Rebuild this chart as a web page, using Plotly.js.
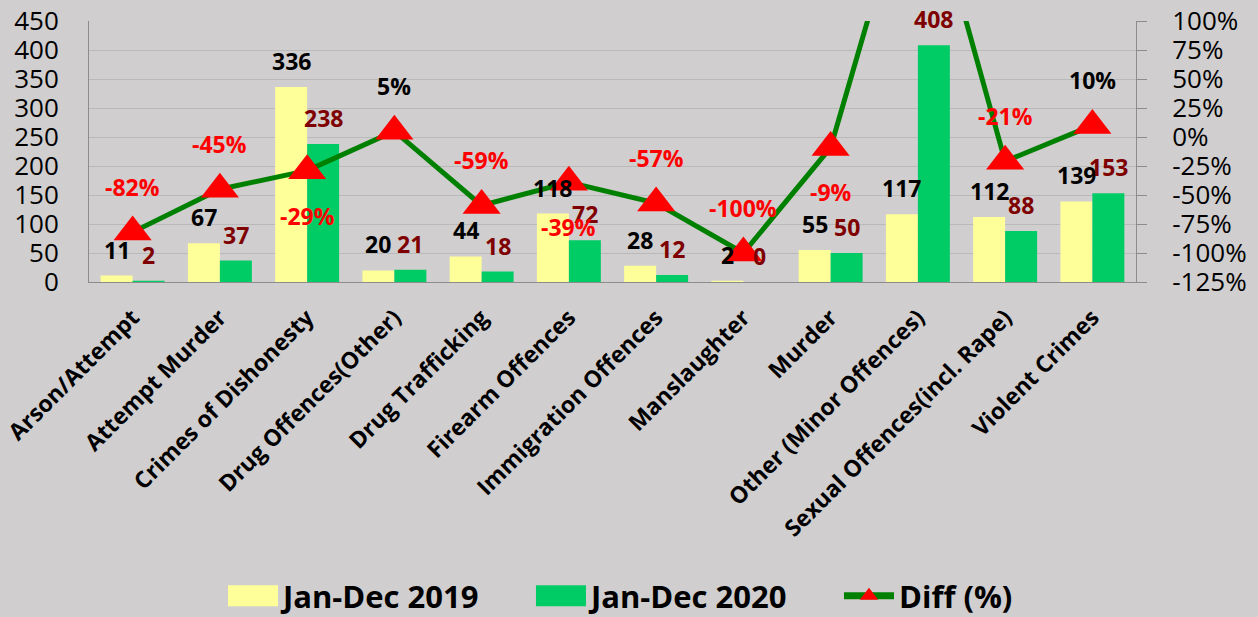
<!DOCTYPE html>
<html>
<head>
<meta charset="utf-8">
<script src="https://cdn.plot.ly/plotly-3.0.1.min.js"></script>
<style>
  html, body { margin: 0; padding: 0; background: #d0cece; }
  #chart { width: 1258px; height: 617px; }
</style>
</head>
<body>
<div id="chart"></div>
<script>
const categories = [
  "Arson/Attempt", "Attempt Murder", "Crimes of Dishonesty", "Drug Offences(Other)",
  "Drug Trafficking", "Firearm Offences", "Immigration Offences", "Manslaughter",
  "Murder", "Other (Minor Offences)", "Sexual Offences(incl. Rape)", "Violent Crimes"
];
const values2019 = [11, 67, 336, 20, 44, 118, 28, 2, 55, 117, 112, 139];
const values2020 = [2, 37, 238, 21, 18, 72, 12, 0, 50, 408, 88, 153];
const diffPct = [-82, -45, -29, 5, -59, -39, -57, -100, -9, 249, -21, 10];
const seriesNames = ["Jan-Dec 2019", "Jan-Dec 2020", "Diff (%)"];
const leftTickVals = [0, 50, 100, 150, 200, 250, 300, 350, 400, 450];
const rightTickVals = [-125, -100, -75, -50, -25, 0, 25, 50, 75, 100];
const rightTickText = ["-125%", "-100%", "-75%", "-50%", "-25%", "0%", "25%", "50%", "75%", "100%"];

// label placement (above / below the marker) for the Diff labels
const diffLabelSide = [1, 1, -1, 1, 1, -1, 1, 1, -1, 1, 1, 1];

const FONT = "Open Sans, Noto Sans, sans-serif";

const traces = [
  {
    type: "bar", name: seriesNames[0], x: categories, y: values2019,
    marker: { color: "#FFFF99" }, hoverinfo: "skip", yaxis: "y"
  },
  {
    type: "bar", name: seriesNames[1], x: categories, y: values2020,
    marker: { color: "#00CC66" }, hoverinfo: "skip", yaxis: "y"
  },
  {
    type: "scatter", mode: "lines+markers", name: seriesNames[2], x: categories, y: diffPct,
    yaxis: "y2", line: { color: "#008000", width: 5 },
    marker: { symbol: "triangle-up", color: "#FF0000", size: 33 },
    hoverinfo: "skip"
  }
];

const annotations = [];
const barShift = 16;
const labelFont = 23;
categories.forEach((c, i) => {
  annotations.push({
    x: c, y: values2019[i], xref: "x", yref: "y", text: String(values2019[i]),
    showarrow: false, xshift: -barShift, yshift: 26,
    font: { family: FONT, size: labelFont, color: "#000000", weight: "bold" }
  });
  annotations.push({
    x: c, y: values2020[i], xref: "x", yref: "y", text: String(values2020[i]),
    showarrow: false, xshift: barShift, yshift: 26,
    font: { family: FONT, size: labelFont, color: "#7F0000", weight: "bold" }
  });
  if (diffPct[i] <= 100) {
    annotations.push({
      x: c, y: diffPct[i], xref: "x", yref: "y2", text: diffPct[i] + "%",
      showarrow: false, yshift: 45 * diffLabelSide[i],
      font: { family: FONT, size: labelFont, color: diffPct[i] > 0 ? "#000000" : "#FF0000", weight: "bold" }
    });
  }
});

const layout = {
  width: 1258, height: 617,
  paper_bgcolor: "#d0cece", plot_bgcolor: "#d0cece",
  margin: { l: 89, r: 122, t: 21, b: 335, pad: 0, autoexpand: false },
  barmode: "group", bargap: 0.267, bargroupgap: 0,
  font: { family: FONT, color: "#000000" },
  xaxis: {
    type: "category", range: [-0.5, categories.length - 0.5],
    showline: true, linecolor: "#8c8c8c", linewidth: 1,
    showgrid: false, ticks: "", tickangle: -45, automargin: false,
    ticklabelstandoff: 12,
    tickfont: { family: FONT, size: 23, color: "#000000", weight: "bold" }
  },
  yaxis: {
    range: [0, 450], tickvals: leftTickVals, showline: true, linecolor: "#8c8c8c",
    gridcolor: "#b9b9b9", gridwidth: 1, zeroline: false, ticks: "",
    ticklabelstandoff: 24, automargin: false,
    tickfont: { family: FONT, size: 26, color: "#000000" }
  },
  yaxis2: {
    overlaying: "y", side: "right", range: [-125, 100],
    tickvals: rightTickVals, ticktext: rightTickText,
    showgrid: false, zeroline: false, showline: true, linecolor: "#8c8c8c",
    ticks: "outside", ticklen: 10, tickcolor: "#8c8c8c",
    ticklabelstandoff: 20, automargin: false,
    tickfont: { family: FONT, size: 26, color: "#000000" }
  },
  legend: {
    orientation: "h", x: 0.5445, xanchor: "center", xref: "container",
    y: -1.10, yanchor: "top", yref: "paper",
    entrywidth: 243, entrywidthmode: "pixels",
    font: { family: FONT, size: 31, color: "#000000", weight: "bold" },
    bgcolor: "rgba(0,0,0,0)", traceorder: "normal", itemwidth: 50
  },
  showlegend: true,
  annotations: annotations
};

function enlargeLegendSymbols(gd) {
  try {
    const items = gd.querySelectorAll(".legend g.traces");
    items.forEach((item, idx) => {
      if (idx < 2) {
        item.querySelectorAll(".legendpoints path").forEach(p => {
          p.setAttribute("d", "M-25,10.5H25V-10.5H-25Z");
        });
      } else {
        item.querySelectorAll(".legendlines path").forEach(p => {
          p.style.strokeWidth = "7px";
        });
      }
    });
  } catch (e) { /* keep default legend */ }
}

Plotly.newPlot("chart", traces, layout, { staticPlot: true, displayModeBar: false })
  .then(gd => enlargeLegendSymbols(gd));
</script>
</body>
</html>
